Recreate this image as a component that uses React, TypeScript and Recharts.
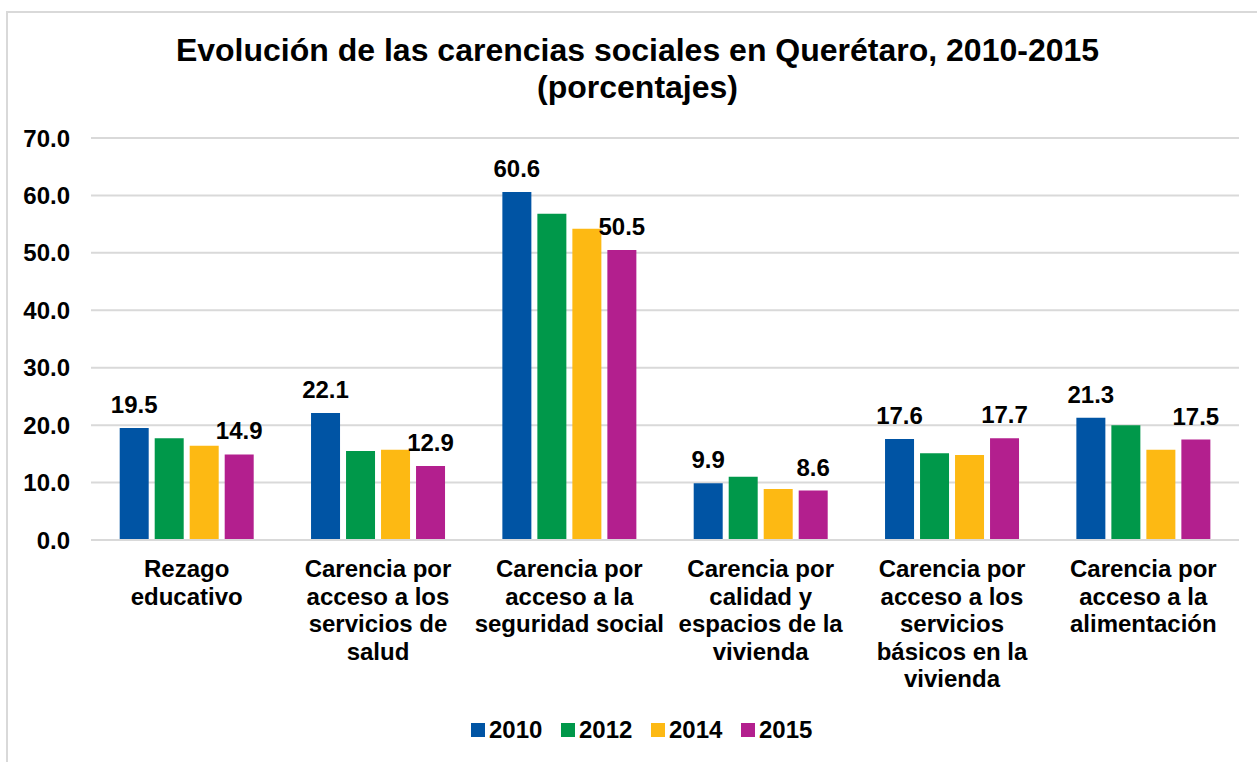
import { Bar, BarChart, CartesianGrid, LabelList, XAxis, YAxis } from 'recharts'

const categories = [
  'Rezago\neducativo',
  'Carencia por\nacceso a los\nservicios de\nsalud',
  'Carencia por\nacceso a la\nseguridad social',
  'Carencia por\ncalidad y\nespacios de la\nvivienda',
  'Carencia por\nacceso a los\nservicios\nbásicos en la\nvivienda',
  'Carencia por\nacceso a la\nalimentación',
]

const years = ['2010', '2012', '2014', '2015']
const values2010 = [19.5, 22.1, 60.6, 9.9, 17.6, 21.3]
const values2012 = [17.7, 15.5, 56.8, 11.0, 15.1, 20.0]
const values2014 = [16.4, 15.7, 54.2, 8.9, 14.8, 15.7]
const values2015 = [14.9, 12.9, 50.5, 8.6, 17.7, 17.5]
const yTicks = [0, 10, 20, 30, 40, 50, 60, 70]

const colors = ['#0054a4', '#00984a', '#fdb913', '#b31f8e']
const font = '"Liberation Sans", Arial, sans-serif'

const data = categories.map((c, i) => ({
  cat: c,
  '2010': values2010[i],
  '2012': values2012[i],
  '2014': values2014[i],
  '2015': values2015[i],
}))

function CatTick({ x, y, payload }: any) {
  const lines = String(payload.value).split('\n')
  return (
    <text x={x} y={y} textAnchor="middle" fontFamily={font} fontSize={24} fontWeight="bold" fill="#000">
      {lines.map((l, i) => (
        <tspan key={i} x={x} y={y + 37 + i * 27.5}>
          {l}
        </tspan>
      ))}
    </text>
  )
}

// legend drawn by hand, Excel-style spacing
function LegendBox() {
  return (
    <div
      style={{
        position: 'absolute',
        left: 471,
        top: 716,
        height: 28,
        display: 'flex',
        alignItems: 'center',
        fontFamily: font,
        fontSize: 24,
        fontWeight: 'bold',
      }}
    >
      {years.map((y, i) => (
        <div key={y} style={{ display: 'flex', alignItems: 'center', width: i < years.length - 1 ? 90 : 'auto' }}>
          <span style={{ width: 14, height: 14, background: colors[i], marginRight: 4, display: 'inline-block' }} />
          <span>{y}</span>
        </div>
      ))}
    </div>
  )
}

export default function App() {
  return (
    <div style={{ position: 'relative', width: 1257, height: 762, overflow: 'hidden', background: '#fff' }}>
      <style>{'body{margin:0;overflow:hidden}'}</style>
      <div
        style={{
          position: 'absolute',
          left: 6,
          top: 11,
          width: 1270,
          height: 780,
          border: '2px solid #d9d9d9',
          boxSizing: 'border-box',
        }}
      />
      <div
        style={{
          position: 'absolute',
          top: 32,
          left: 0,
          width: 1275,
          textAlign: 'center',
          fontFamily: font,
          fontSize: 32,
          fontWeight: 'bold',
          lineHeight: '37px',
        }}
      >
        Evolución de las carencias sociales en Querétaro, 2010-2015
        <br />
        (porcentajes)
      </div>
      <div style={{ position: 'absolute', left: 0, top: 0 }}>
        <BarChart
          width={1257}
          height={762}
          data={data}
          margin={{ top: 138, right: 18, bottom: 0, left: 0 }}
          barCategoryGap="15%"
          barGap={6}
        >
          <CartesianGrid vertical={false} stroke="#d9d9d9" strokeWidth={2} />
          <XAxis
            dataKey="cat"
            interval={0}
            tickLine={false}
            axisLine={{ stroke: '#d9d9d9', strokeWidth: 2 }}
            tickSize={0}
            tickMargin={0}
            height={222}
            tick={<CatTick />}
          />
          <YAxis
            domain={[0, 70]}
            ticks={yTicks}
            width={91}
            axisLine={false}
            tickLine={false}
            tickSize={0}
            tickMargin={21}
            tickFormatter={(v: number) => v.toFixed(1)}
            tick={{ fontFamily: font, fontSize: 24, fontWeight: 'bold', fill: '#000' }}
          />
          {years.map((y, i) => (
            <Bar key={y} dataKey={y} name={y} fill={colors[i]} isAnimationActive={false}>
              {(y === '2010' || y === '2015') && (
                <LabelList
                  dataKey={y}
                  position="top"
                  offset={15}
                  formatter={(v: any) => Number(v).toFixed(1)}
                  style={{ fontFamily: font, fontSize: 24, fontWeight: 'bold', fill: '#000' }}
                />
              )}
            </Bar>
          ))}
        </BarChart>
      </div>
      <LegendBox />
    </div>
  )
}
